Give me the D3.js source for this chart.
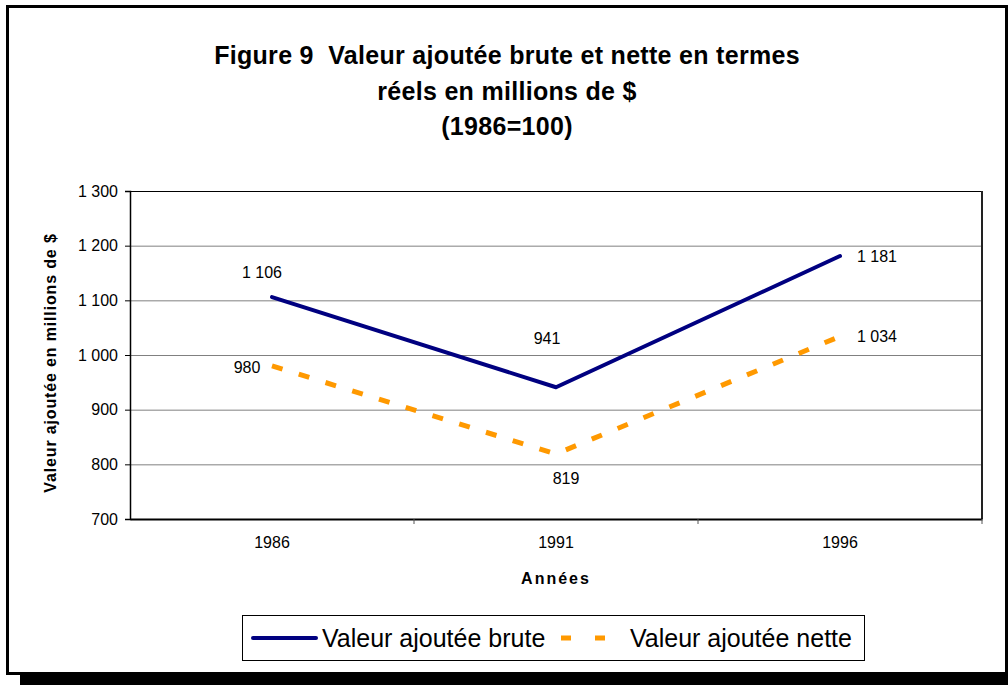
<!DOCTYPE html>
<html lang="fr">
<head>
<meta charset="utf-8">
<title>Figure 9</title>
<script src="https://cdn.jsdelivr.net/npm/d3@7"></script>
<style>
  body { margin: 0; background: #fff; }
  svg { display: block; font-family: "Liberation Sans", Arial, sans-serif; }
  .title { font-weight: bold; font-size: 25px; letter-spacing: 0.3px; white-space: pre; }
  .tick text { font-size: 16px; fill: #000; }
  .lbl { font-size: 16px; }
  .axtitle { font-weight: bold; font-size: 16px; }
  .legend text { font-size: 25px; }
</style>
</head>
<body>
<script>
// data
var years = ["1986", "1991", "1996"];
var brute = [1106, 941, 1181];
var nette = [980, 819, 1034];
var yTicks = [700, 800, 900, 1000, 1100, 1200, 1300];
var titleLines = ["Figure 9  Valeur ajoutée brute et nette en termes", "réels en millions de $", "(1986=100)"];
var seriesNames = ["Valeur ajoutée brute", "Valeur ajoutée nette"];

// where each data label sits relative to its point
var offBrute = [[-10, -19], [-9, -43], [37, 6]];
var offNette = [[-25, 7], [10, 30], [37, 6]];

var W = 1008, H = 685;
var pLeft = 130, pRight = 982, pTop = 191, pBottom = 519;

var fr = d3.formatLocale({decimal: ",", thousands: " ", grouping: [3], currency: ["", " $"]});
var fmt = fr.format(",d");

var svg = d3.select("body").append("svg")
    .attr("width", W)
    .attr("height", H);

// drop shadow + frame
svg.append("rect").attr("x", 20).attr("y", 20).attr("width", 1000).attr("height", 680).attr("fill", "#000");
svg.append("rect").attr("x", 7.5).attr("y", 6.5).attr("width", 999).attr("height", 667)
    .attr("fill", "#fff").attr("stroke", "#000").attr("stroke-width", 3);

// title
svg.append("text").attr("class", "title")
    .attr("text-anchor", "middle")
    .selectAll("tspan").data(titleLines).enter().append("tspan")
    .attr("x", 507)
    .attr("y", function(d, i) { return 64 + i * 35.5; })
    .text(function(d) { return d; });

var x = d3.scaleBand().domain(years).range([pLeft, pRight]);
var y = d3.scaleLinear().domain([700, 1300]).range([pBottom, pTop]);
var px = function(d) { return x(d) + x.bandwidth() / 2; };

// gridlines
svg.append("g")
    .attr("transform", "translate(" + pLeft + ",0)")
    .call(d3.axisLeft(y).tickValues(yTicks).tickSize(-(pRight - pLeft)).tickFormat(""))
    .call(function(g) { g.select(".domain").remove(); })
    .selectAll("line").attr("stroke", "#808080");

// plot border (top / right)
svg.append("line").attr("x1", pLeft).attr("x2", pRight).attr("y1", pTop + 0.5).attr("y2", pTop + 0.5)
    .attr("stroke", "#000").attr("stroke-width", 1);
svg.append("line").attr("x1", pRight).attr("x2", pRight).attr("y1", pTop).attr("y2", pBottom)
    .attr("stroke", "#222").attr("stroke-width", 2);

// y axis
var ya = svg.append("g")
    .attr("transform", "translate(" + pLeft + ",0)")
    .call(d3.axisLeft(y).tickValues(yTicks).tickSize(5).tickPadding(7).tickFormat(fmt));
ya.select(".domain").attr("stroke", "#000").attr("stroke-width", 1.5);
ya.selectAll(".tick line").attr("stroke", "#000");

// x axis
var xa = svg.append("g")
    .attr("transform", "translate(0," + pBottom + ")")
    .call(d3.axisBottom(x).tickSize(0).tickPadding(21));
xa.select(".domain").attr("stroke", "#000").attr("stroke-width", 2);
xa.selectAll(".tick text").attr("dy", "0.71em").attr("y", 18);

svg.append("g").selectAll("line")
    .data(years.slice(1).concat(["end"]))
    .enter().append("line")
    .attr("x1", function(d, i) { return pLeft + (i + 1) * x.step(); })
    .attr("x2", function(d, i) { return pLeft + (i + 1) * x.step(); })
    .attr("y1", pBottom).attr("y2", pBottom + 5)
    .attr("stroke", "#555");

// axis titles
svg.append("text").attr("class", "axtitle")
    .attr("text-anchor", "middle")
    .attr("x", 556).attr("y", 584)
    .style("letter-spacing", "2px")
    .text("Années");

svg.append("text").attr("class", "axtitle")
    .attr("text-anchor", "middle")
    .attr("transform", "translate(56,363) rotate(-90)")
    .style("letter-spacing", "0.85px")
    .text("Valeur ajoutée en millions de $");

// lines
var line = d3.line()
    .x(function(d, i) { return px(years[i]); })
    .y(function(d) { return y(d); });

svg.append("path").datum(nette)
    .attr("d", line)
    .attr("fill", "none")
    .attr("stroke", "#FF9900")
    .attr("stroke-width", 5)
    .attr("stroke-dasharray", "11,17");

svg.append("path").datum(brute)
    .attr("d", line)
    .attr("fill", "none")
    .attr("stroke", "#000080")
    .attr("stroke-width", 4)
    .attr("stroke-linecap", "round")
    .attr("stroke-linejoin", "round");

// data labels
function labels(vals, offs) {
  svg.append("g").selectAll("text")
      .data(vals).enter().append("text")
      .attr("class", "lbl")
      .attr("text-anchor", "middle")
      .attr("x", function(d, i) { return px(years[i]) + offs[i][0]; })
      .attr("y", function(d, i) { return y(d) + offs[i][1]; })
      .text(function(d) { return fmt(d); });
}
labels(brute, offBrute);
labels(nette, offNette);

// legend
var lg = svg.append("g").attr("class", "legend");
lg.append("rect").attr("x", 242.5).attr("y", 615.5).attr("width", 622).attr("height", 45)
    .attr("fill", "#fff").attr("stroke", "#000").attr("stroke-width", 1);
lg.append("line").attr("x1", 253).attr("x2", 316).attr("y1", 638).attr("y2", 638)
    .attr("stroke", "#000080").attr("stroke-width", 4).attr("stroke-linecap", "round");
lg.append("text").attr("x", 322).attr("y", 647).text(seriesNames[0]);
lg.append("line").attr("x1", 561).attr("x2", 625).attr("y1", 638).attr("y2", 638)
    .attr("stroke", "#FF9900").attr("stroke-width", 5).attr("stroke-dasharray", "10,24");
lg.append("text").attr("x", 630).attr("y", 647).text(seriesNames[1]);
</script>
</body>
</html>
